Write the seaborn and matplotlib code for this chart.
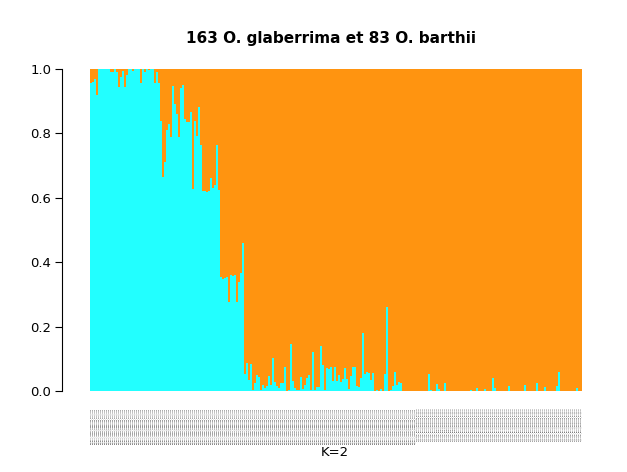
import matplotlib
matplotlib.use("Agg")
import matplotlib.pyplot as plt
import seaborn as sns
import pandas as pd

# proportion d'ascendance "cyan" (K=2) par individu
cyan_prop = [
    0.955, 0.960, 0.968, 0.918, 1.0, 1.0, 1.0, 1.0, 1.0, 1.0,
    0.990, 0.992, 1.0, 0.990, 0.945, 0.975, 0.993, 0.943, 0.980, 1.0,
    1.0, 0.994, 1.0, 1.0, 1.0, 0.955, 1.0, 0.990, 1.0, 0.996,
    1.0, 1.0, 0.957, 0.990, 0.957, 0.838, 0.665, 0.710, 0.810, 0.830,
    0.788, 0.948, 0.891, 0.860, 0.790, 0.941, 0.950, 0.845, 0.834, 0.834,
    0.868, 0.627, 0.837, 0.793, 0.881, 0.765, 0.620, 0.621, 0.617, 0.621,
    0.660, 0.630, 0.641, 0.765, 0.625, 0.355, 0.348, 0.350, 0.355, 0.275,
    0.361, 0.357, 0.360, 0.275, 0.340, 0.365, 0.459, 0.054, 0.088, 0.035,
    0.084, 0.003, 0.024, 0.049, 0.042, 0.003, 0.020, 0.008, 0.015, 0.047,
    0.019, 0.104, 0.029, 0.016, 0.008, 0.024, 0.024, 0.073, 0.001, 0.003,
    0.146, 0.031, 0.010, 0.003, 0.003, 0.043, 0.005, 0.019, 0.039, 0.050,
    0.003, 0.122, 0.003, 0.011, 0.011, 0.140, 0.080, 0.003, 0.070, 0.067,
    0.076, 0.032, 0.073, 0.032, 0.049, 0.028, 0.036, 0.071, 0.036, 0.005,
    0.047, 0.076, 0.076, 0.016, 0.013, 0.039, 0.179, 0.053, 0.059, 0.057,
    0.034, 0.057, 0.0, 0.003, 0.0, 0.005, 0.0, 0.053, 0.260, 0.0,
    0.003, 0.016, 0.059, 0.019, 0.029, 0.024, 0.0, 0.0, 0.0, 0.0,
    0.0, 0.0, 0.0, 0.0, 0.0, 0.0, 0.0, 0.0, 0.0, 0.053,
    0.003, 0.0, 0.0, 0.022, 0.006, 0.0, 0.0, 0.024, 0.0, 0.0,
    0.0, 0.0, 0.0, 0.0, 0.0, 0.0, 0.0, 0.0, 0.0, 0.0,
    0.003, 0.0, 0.0, 0.010, 0.0, 0.0, 0.0, 0.007, 0.0, 0.0,
    0.0, 0.039, 0.008, 0.0, 0.0, 0.0, 0.0, 0.0, 0.0, 0.017,
    0.0, 0.0, 0.0, 0.0, 0.0, 0.0, 0.0, 0.019, 0.0, 0.0,
    0.0, 0.0, 0.0, 0.024, 0.0, 0.0, 0.0, 0.012, 0.0, 0.0,
    0.0, 0.0, 0.0, 0.014, 0.060, 0.0, 0.0, 0.0, 0.0, 0.0,
    0.0, 0.0, 0.0, 0.010, 0.0, 0.0,
]

# noms des échantillons (illisibles sur l'original)
n_glab, n_barth = 163, 83
sample_names = [f"Og_IRGC_{103000 + i}_glaberrima_Mali_2012" for i in range(n_glab)] + \
               [f"Ob_barthii_B{i:03d}_WestAfrica_wild_pop" for i in range(n_barth)]

df = pd.DataFrame({"Individu": sample_names, "cyan": cyan_prop})
df["total"] = 1.0

fig = plt.figure(figsize=(6.27, 4.72), dpi=100)
ax = fig.add_axes([90 / 627, 1 - 391 / 472, 492 / 627, 322 / 472])

sns.barplot(data=df, x="Individu", y="total", color="#FF9410", width=1.0,
            saturation=1, linewidth=0, ax=ax)
sns.barplot(data=df, x="Individu", y="cyan", color="#22FFFF", width=1.0,
            saturation=1, linewidth=0, ax=ax)

ax.set_xlim(-0.5, len(df) - 0.5)
ax.set_ylim(0, 1)
ax.set_yticks([0, 0.2, 0.4, 0.6, 0.8, 1.0])
ax.set_yticklabels(["0.0", "0.2", "0.4", "0.6", "0.8", "1.0"])
ax.tick_params(axis="y", length=5, width=0.8, labelsize=9.5, pad=3)
ax.tick_params(axis="x", length=0, labelsize=1.25, labelrotation=90,
               pad=12, labelcolor="black")
for lab in ax.get_xticklabels():
    lab.set_verticalalignment("top")

for side in ["top", "right", "bottom"]:
    ax.spines[side].set_visible(False)
ax.spines["left"].set_position(("outward", 20))
ax.spines["left"].set_linewidth(0.8)
ax.set_xlabel("")
ax.set_ylabel("")

fig.text(331 / 627, 1 - 38 / 472, "163 O. glaberrima et 83 O. barthii",
         ha="center", va="center", fontsize=11, fontweight="bold")
fig.text(335 / 627, 1 - 452 / 472, "K=2", ha="center", va="center", fontsize=9.5)

fig.savefig("out.png", dpi=100, facecolor="white")
